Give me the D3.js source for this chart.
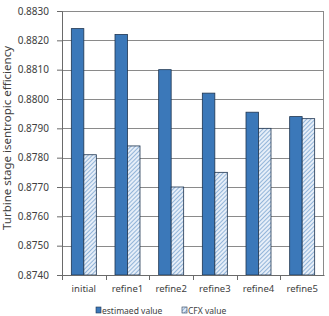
<!DOCTYPE html>
<html>
<head>
<meta charset="utf-8">
<script src="https://cdn.jsdelivr.net/npm/d3@7"></script>
<style>
  body { margin: 0; background: #fff; }
  svg text { font-family: "Noto Sans", "Open Sans", sans-serif; fill: #404040; }
</style>
</head>
<body>
<svg id="chart" width="329" height="316"></svg>
<script>
// chart data
const categories = ["initial", "refine1", "refine2", "refine3", "refine4", "refine5"];
const estimatedValues = [0.8824, 0.8822, 0.8810, 0.8802, 0.87955, 0.8794];
const cfxValues = [0.8781, 0.8784, 0.8770, 0.8775, 0.8790, 0.87933];
const seriesNames = ["estimaed value", "CFX value"];
const yTicks = [0.8740, 0.8750, 0.8760, 0.8770, 0.8780, 0.8790, 0.8800, 0.8810, 0.8820, 0.8830];

const svg = d3.select("#chart");
const margin = { top: 11, right: 5, bottom: 41, left: 62 };
const width = 329 - margin.left - margin.right;
const height = 316 - margin.top - margin.bottom;

const defs = svg.append("defs");
const hatch = defs.append("pattern")
    .attr("id", "hatch")
    .attr("patternUnits", "userSpaceOnUse")
    .attr("width", 3).attr("height", 3)
    .attr("patternTransform", "rotate(45)");
hatch.append("rect").attr("width", 3).attr("height", 3).attr("fill", "#e6eef8");
hatch.append("line")
    .attr("x1", 0).attr("y1", 0).attr("x2", 0).attr("y2", 3)
    .attr("stroke", "#6f9ccc").attr("stroke-width", 1.4);

const g = svg.append("g").attr("transform", `translate(${margin.left},${margin.top})`);

const x = d3.scaleBand().domain(categories).range([0, width]);
const y = d3.scaleLinear().domain([0.8740, 0.8830]).range([height, 0]);

// gridlines
g.append("g").selectAll("line")
    .data(yTicks)
    .join("line")
    .attr("x1", 0).attr("x2", width)
    .attr("y1", d => Math.round(y(d)) + 0.5).attr("y2", d => Math.round(y(d)) + 0.5)
    .attr("stroke", "#8a8a8a");

// plot border (right side)
g.append("line")
    .attr("x1", width - 0.5).attr("x2", width - 0.5)
    .attr("y1", 0).attr("y2", height)
    .attr("stroke", "#8a8a8a");

const barW = 12.5;
const rows = categories.map((c, i) => ({ cat: c, est: estimatedValues[i], cfx: cfxValues[i] }));

g.append("g").selectAll("rect")
    .data(rows)
    .join("rect")
    .attr("x", d => x(d.cat) + x.bandwidth() / 2 - barW)
    .attr("y", d => y(d.est))
    .attr("width", barW)
    .attr("height", d => height - y(d.est))
    .attr("fill", "#3b78b9")
    .attr("stroke", "#1e3550")
    .attr("stroke-width", 0.8);

g.append("g").selectAll("rect")
    .data(rows)
    .join("rect")
    .attr("x", d => x(d.cat) + x.bandwidth() / 2)
    .attr("y", d => y(d.cfx))
    .attr("width", barW)
    .attr("height", d => height - y(d.cfx))
    .attr("fill", "url(#hatch)")
    .attr("stroke", "#1e3550")
    .attr("stroke-width", 0.8);

// y axis
const yAxis = g.append("g")
    .call(d3.axisLeft(y).tickValues(yTicks).tickFormat(d3.format(".4f")).tickSize(5).tickPadding(8));
yAxis.select(".domain").attr("stroke", "#6a6a6a");
yAxis.selectAll(".tick line").attr("stroke", "#6a6a6a");
yAxis.selectAll("text").style("font-size", "10px").attr("fill", "#404040");

// x axis
const xAxis = g.append("g")
    .attr("transform", `translate(0,${height})`)
    .call(d3.axisBottom(x).tickSize(0).tickPadding(10));
xAxis.select(".domain").attr("stroke", "#6a6a6a");
xAxis.selectAll("text").style("font-size", "9.5px").attr("fill", "#404040");
// category boundary ticks
g.append("g").selectAll("line")
    .data(categories)
    .join("line")
    .attr("x1", d => Math.round(x(d)) + 0.5).attr("x2", d => Math.round(x(d)) + 0.5)
    .attr("y1", height).attr("y2", height + 5)
    .attr("stroke", "#6a6a6a");

// y axis title
svg.append("text")
    .attr("transform", "translate(11,138) rotate(-90)")
    .attr("text-anchor", "middle")
    .style("font-size", "11.5px")
    .text("Turbine stage isentropic efficiency");

// legend
const legend = svg.append("g").attr("transform", "translate(96,307)");
const items = [
    { name: seriesNames[0], fill: "#3b78b9", dx: 0 },
    { name: seriesNames[1], fill: "url(#hatch)", dx: 86 }
];
items.forEach(it => {
    legend.append("rect")
        .attr("x", it.dx).attr("y", 0)
        .attr("width", 5).attr("height", 6)
        .attr("fill", it.fill)
        .attr("stroke", "#1e3550").attr("stroke-width", 0.6);
    legend.append("text")
        .attr("x", it.dx + 6).attr("y", 6.5)
        .style("font-size", "8.5px")
        .text(it.name);
});
</script>
</body>
</html>
